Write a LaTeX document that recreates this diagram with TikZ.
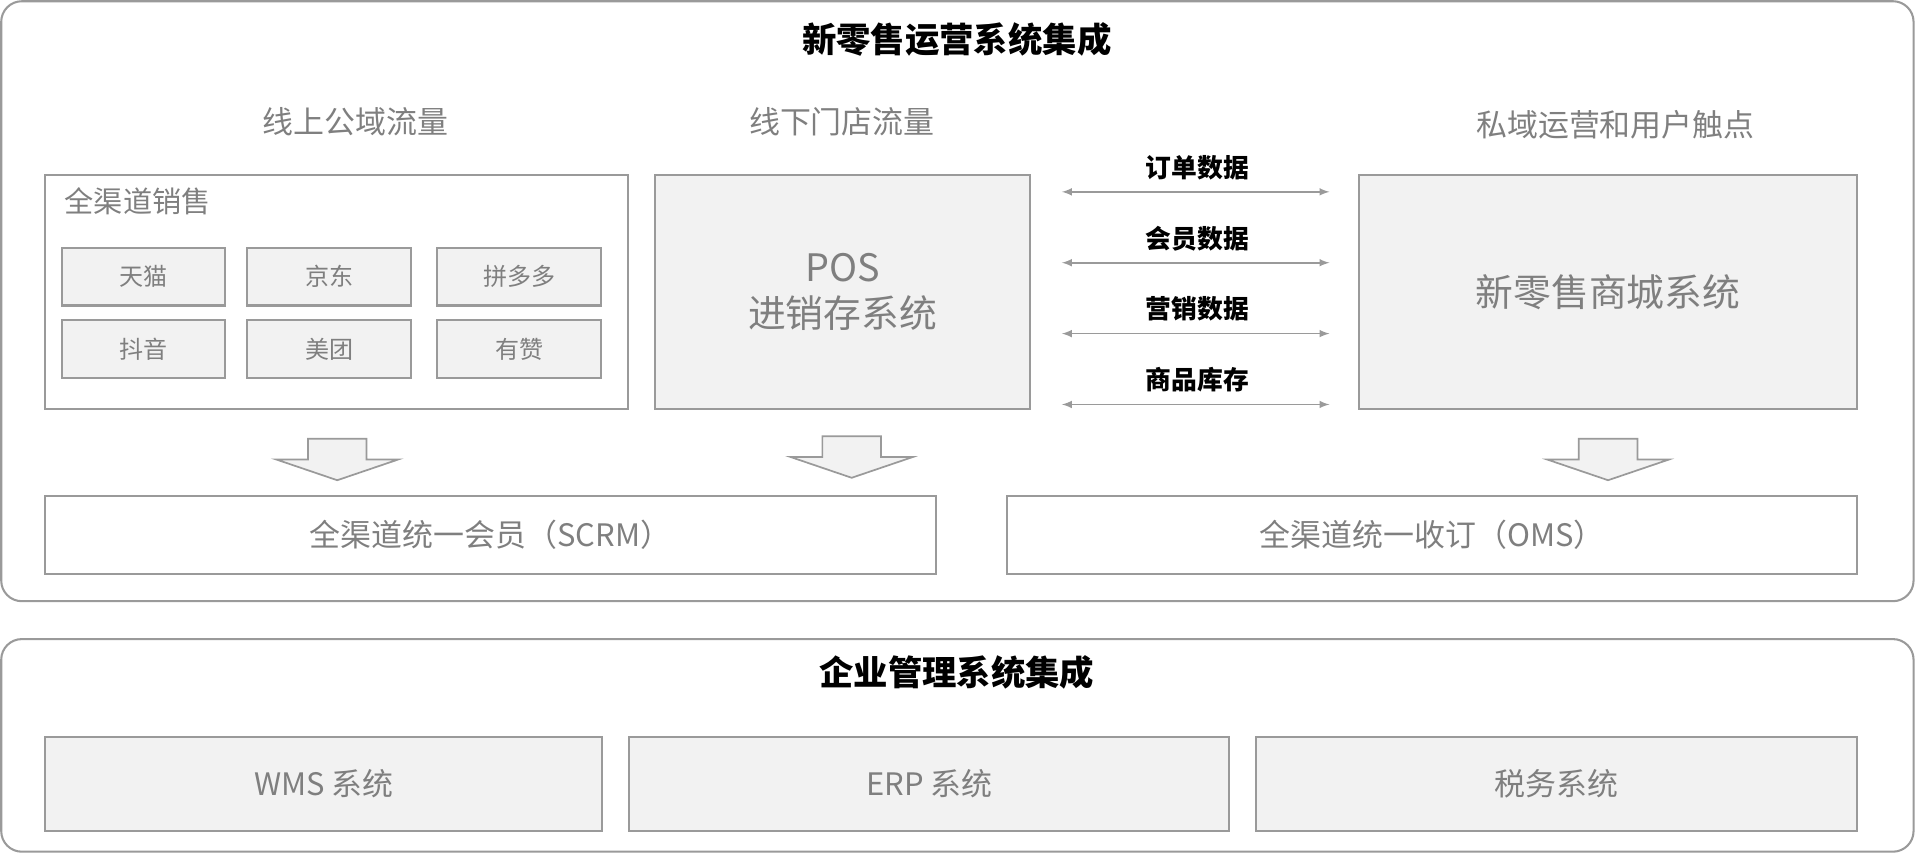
\documentclass[tikz,border=0pt]{standalone}
\usepackage{fontspec}
\setmainfont{Noto Sans CJK SC}
\usetikzlibrary{positioning}
\definecolor{txtgray}{HTML}{7F7F7F}
\definecolor{linegray}{HTML}{9A9A9A}
\definecolor{boxfill}{HTML}{F2F2F2}
\tikzset{
  box/.style={draw=linegray,line width=1.2pt,inner sep=0pt,text=txtgray},
  gbox/.style={box,fill=boxfill},
  chip/.style={gbox,minimum width=134\pxu,minimum height=47\pxu,font=\fontsize{14}{16}\selectfont},
  head/.style={text=txtgray,font=\fontsize{18}{20}\selectfont},
  flow/.style={<->,>=latex,linegray,line width=1pt},
  flowlab/.style={font=\bfseries\fontsize{15}{17}\selectfont},
  blockarr/.style={draw=linegray,fill=boxfill,line width=1pt}
}
\newlength{\pxu}\setlength{\pxu}{0.025cm}
\begin{document}
\begin{tikzpicture}[x=0.025cm,y=-0.025cm]
\useasboundingbox (0,0) rectangle (1568,699);
% frames
\draw[linegray,line width=1.2pt,rounded corners=12pt] (1,1) rectangle (1566,492);
\draw[linegray,line width=1.2pt,rounded corners=12pt] (1,523) rectangle (1566,697);
\node[font=\bfseries\fontsize{20}{22}\selectfont] (title1) at (783,32) {新零售运营系统集成};
\node[font=\bfseries\fontsize{20}{22}\selectfont] (title2) at (783,550) {企业管理系统集成};
% headers
\node[head] (h1) at (291,100) {线上公域流量};
\node[head] (h2) at (689,100) {线下门店流量};
\node[head] (h3) at (1322,102) {私域运营和用户触点};
% channel box
\node[box,minimum width=477\pxu,minimum height=192\pxu] (allch) at (275.5,239) {};
\node[text=txtgray,anchor=west,font=\fontsize{17}{19}\selectfont] (allchlab) at (48,165) {全渠道销售};
\node[chip] (tmall) at (117.5,226.5) {天猫};
\node[chip] (jd) at (269.5,226.5) {京东};
\node[chip] (pdd) at (425,226.5) {拼多多};
\node[chip] (douyin) at (117.5,285.5) {抖音};
\node[chip] (meituan) at (269.5,285.5) {美团};
\node[chip] (youzan) at (425,285.5) {有赞};
% POS and mall
\node[gbox,minimum width=307\pxu,minimum height=192\pxu,align=center,
  font=\fontsize{22}{27}\selectfont] (pos) at (689.5,239) {POS\\进销存系统};
\node[gbox,minimum width=408\pxu,minimum height=192\pxu,
  font=\fontsize{22}{26}\selectfont] (mall) at (1316,239) {新零售商城系统};
% data flows
\foreach \y/\t in {157/订单数据,215/会员数据,273/营销数据,331/商品库存}{
  \coordinate (fl\y) at (869,\y);
  \coordinate (fr\y) at (1088,\y);
  \draw[flow] (fl\y) -- (fr\y);
  \node[flowlab] (lab\y) at (980,\y-20) {\t};
}
% block arrows
\foreach \cx/\cy in {276/359,697/357,1316/359}{
  \draw[blockarr] (\cx-24,\cy) -- (\cx+24,\cy) -- (\cx+24,\cy+17) -- (\cx+50,\cy+17)
    -- (\cx,\cy+34) -- (\cx-50,\cy+17) -- (\cx-24,\cy+17) -- cycle;
}
% unified systems
\node[box,minimum width=729\pxu,minimum height=64\pxu,font=\fontsize{18}{20}\selectfont] (scrm) at (401.5,438) {全渠道统一会员（SCRM）};
\node[box,minimum width=696\pxu,minimum height=64\pxu,font=\fontsize{18}{20}\selectfont] (oms) at (1172,438) {全渠道统一收订（OMS）};
% enterprise systems
\node[gbox,minimum width=456\pxu,minimum height=77\pxu,font=\fontsize{18}{20}\selectfont] (wms) at (265,641.5) {WMS 系统};
\node[gbox,minimum width=491\pxu,minimum height=77\pxu,font=\fontsize{18}{20}\selectfont] (erp) at (760.5,641.5) {ERP 系统};
\node[gbox,minimum width=492\pxu,minimum height=77\pxu,font=\fontsize{18}{20}\selectfont] (tax) at (1274,641.5) {税务系统};
\end{tikzpicture}
\end{document}
